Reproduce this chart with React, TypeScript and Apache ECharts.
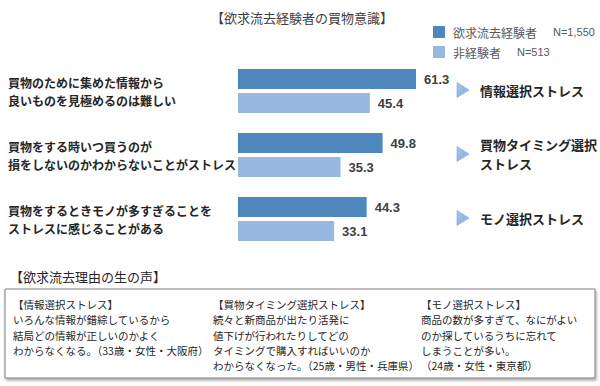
import React, { useEffect, useRef } from "react";
import * as echarts from "echarts";

const categories = [
  "買物のために集めた情報から\n良いものを見極めるのは難しい",
  "買物をする時いつ買うのが\n損をしないのかわからないことがストレス",
  "買物をするときモノが多すぎることを\nストレスに感じることがある",
];
const seriesNames = ["欲求流去経験者", "非経験者"];
const sampleSizes = ["N=1,550", "N=513"];
const experienced = [61.3, 49.8, 44.3];
const nonExperienced = [45.4, 35.3, 33.1];
const annotations = ["情報選択ストレス", "買物タイミング選択\nストレス", "モノ選択ストレス"];
const voiceTitles = ["【情報選択ストレス】", "【買物タイミング選択ストレス】", "【モノ選択ストレス】"];
const voiceTexts = [
  "いろんな情報が錯綜しているから\n結局どの情報が正しいのかよく\nわからなくなる。（33歳・女性・大阪府）",
  "続々と新商品が出たり活発に\n値下げが行われたりしてどの\nタイミングで購入すればいいのか\nわからなくなった。（25歳・男性・兵庫県）",
  "商品の数が多すぎて、なにがよい\nのか探しているうちに忘れて\nしまうことが多い。\n（24歳・女性・東京都）",
];

const JP = "'Noto Sans CJK JP', 'Noto Sans', sans-serif";
const NUM = "'Liberation Sans', Arial, sans-serif";
const DARK = "#4F87BC";
const LIGHT = "#97B8DF";

export default function App() {
  const ref = useRef<HTMLDivElement>(null);
  useEffect(() => {
    if (!ref.current) return;
    const chart = echarts.init(ref.current, null, { renderer: "svg" });
    chart.setOption({
      animation: false,
      backgroundColor: "#ffffff",
      title: {
        text: "【欲求流去経験者の買物意識】",
        left: 206,
        top: 6,
        textStyle: { fontFamily: JP, fontSize: 13, fontWeight: "normal", color: "#404040" },
      },
      legend: {
        orient: "vertical",
        left: 428,
        top: 21,
        itemWidth: 12,
        itemHeight: 12,
        itemGap: 8,
        icon: "rect",
        data: seriesNames,
        formatter: (name: string) => {
          const i = seriesNames.indexOf(name);
          return `{a|${name}}{n|${sampleSizes[i]}}`;
        },
        textStyle: {
          fontFamily: JP,
          fontSize: 12,
          color: "#595959",
          rich: {
            a: { fontFamily: JP, fontSize: 12, color: "#595959", padding: [0, 0, 0, 3] },
            n: { fontFamily: NUM, fontSize: 11, color: "#595959", padding: [0, 0, 0, 16] },
          },
        },
      },
      grid: { left: 238, top: 59, height: 192, width: 290.4 },
      xAxis: {
        type: "value",
        min: 0,
        max: 100,
        show: false,
      },
      yAxis: {
        type: "category",
        data: categories,
        inverse: true,
        axisLine: { show: false },
        axisTick: { show: false },
        splitLine: { show: false },
        axisLabel: {
          align: "left",
          margin: 230,
          fontFamily: JP,
          fontSize: 12,
          fontWeight: "bold",
          lineHeight: 18,
          color: "#262626",
        },
      },
      series: [
        {
          name: seriesNames[0],
          type: "bar",
          data: experienced,
          barWidth: 20,
          barGap: "20%",
          itemStyle: { color: DARK },
          label: {
            show: true,
            position: "right",
            distance: 8,
            fontFamily: NUM,
            fontSize: 13,
            fontWeight: "bold",
            color: "#404040",
          },
        },
        {
          name: seriesNames[1],
          type: "bar",
          data: nonExperienced,
          barWidth: 20,
          barGap: "20%",
          itemStyle: { color: LIGHT },
          label: {
            show: true,
            position: "right",
            distance: 8,
            fontFamily: NUM,
            fontSize: 13,
            fontWeight: "bold",
            color: "#404040",
          },
        },
      ],
    });

    const ys = categories.map((c) => chart.convertToPixel({ yAxisIndex: 0 }, c) as number);
    const graphics: any[] = [];
    ys.forEach((y, i) => {
      const yy = y - 1;
      graphics.push({
        type: "polygon",
        x: 457,
        y: yy,
        shape: { points: [[0, -7.5], [12, 0], [0, 7.5]] },
        style: {
          fill: new echarts.graphic.LinearGradient(0, 0, 1, 1, [
            { offset: 0, color: "#A9C8EC" },
            { offset: 1, color: "#7FA8DA" },
          ]),
          stroke: "#7DA5D6",
          lineWidth: 0.6,
        },
      });
      graphics.push({
        type: "text",
        x: 480,
        y: yy,
        style: {
          text: annotations[i],
          fontFamily: JP,
          fontSize: 13,
          fontWeight: "bold",
          lineHeight: 19,
          fill: "#262626",
          verticalAlign: "middle",
          align: "left",
        },
      });
    });
    graphics.push({
      type: "text",
      x: 10,
      y: 276,
      style: {
        text: "【欲求流去理由の生の声】",
        fontFamily: JP,
        fontSize: 13,
        fill: "#262626",
        verticalAlign: "middle",
      },
    });
    graphics.push({
      type: "rect",
      shape: { x: 5, y: 289, width: 590, height: 89 },
      style: {
        fill: "#ffffff",
        stroke: "#7F7F7F",
        lineWidth: 1,
        shadowBlur: 3,
        shadowOffsetX: 1,
        shadowOffsetY: 2,
        shadowColor: "rgba(0,0,0,0.35)",
      },
    });
    const colX = [13, 213, 421];
    colX.forEach((x, i) => {
      graphics.push({
        type: "text",
        x,
        y: 297,
        style: {
          text: voiceTitles[i] + "\n" + voiceTexts[i],
          fontFamily: JP,
          fontSize: 10.5,
          lineHeight: 15.3,
          fill: "#262626",
          verticalAlign: "top",
          align: "left",
        },
      });
    });
    chart.setOption({ graphic: graphics });

    return () => chart.dispose();
  }, []);
  return (
    <div
      ref={ref}
      style={{ position: "fixed", left: 0, top: 0, width: 600, height: 386, background: "#fff" }}
    />
  );
}
